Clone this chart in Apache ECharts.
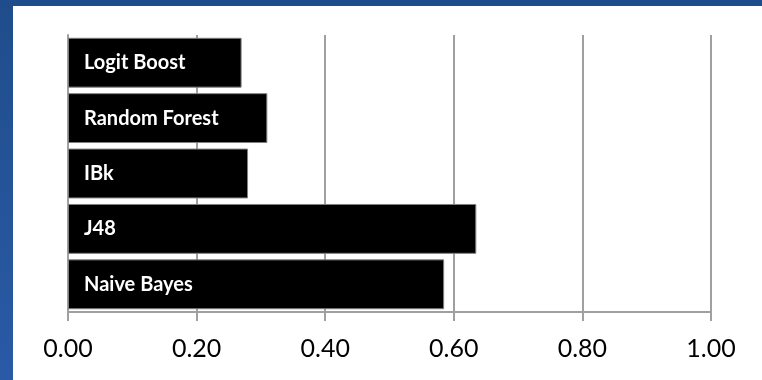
<!DOCTYPE html>
<html>
<head>
<meta charset="utf-8">
<script src="https://cdn.jsdelivr.net/npm/echarts@6/dist/echarts.min.js"></script>
<style>
  html, body { margin: 0; padding: 0; }
  body {
    width: 762px; height: 380px; overflow: hidden; position: relative;
    background: linear-gradient(180deg, #1f4d8b 0%, #2a5aa6 100%);
  }
  #chart {
    position: absolute; left: 13px; top: 6px;
    width: 749px; height: 374px; background: #ffffff;
  }
</style>
</head>
<body>
<div id="chart"></div>
<script>
// Classifiers, listed top to bottom
const classifiers = ['Logit Boost', 'Random Forest', 'IBk', 'J48', 'Naive Bayes'];
// Score for each classifier
const scores = [0.27, 0.31, 0.28, 0.635, 0.585];
// Value axis ticks
const tickValues = [0, 0.2, 0.4, 0.6, 0.8, 1.0];

const gridGray = '#a0a0a0';
const chart = echarts.init(document.getElementById('chart'));

chart.setOption({
  animation: false,
  grid: { left: 55, right: 51, top: 29, bottom: 68, containLabel: false },
  xAxis: {
    type: 'value',
    min: tickValues[0],
    max: tickValues[tickValues.length - 1],
    interval: tickValues[1] - tickValues[0],
    axisLine: { show: true, lineStyle: { color: gridGray, width: 2 } },
    axisTick: { show: true, length: 9, lineStyle: { color: gridGray, width: 2 } },
    splitLine: { show: true, lineStyle: { color: gridGray, width: 2 } },
    axisLabel: {
      color: '#000000',
      fontSize: 25,
      fontFamily: 'Lato, Noto Sans, sans-serif',
      margin: 24,
      formatter: v => v.toFixed(2)
    }
  },
  yAxis: {
    type: 'category',
    inverse: true,
    data: classifiers,
    axisLine: { show: true, lineStyle: { color: gridGray, width: 2 } },
    axisTick: { show: false },
    axisLabel: { show: false },
    splitLine: { show: false }
  },
  series: [{
    type: 'bar',
    data: scores,
    barCategoryGap: '10%',
    itemStyle: { color: '#000000', borderColor: '#808080', borderWidth: 1 },
    label: {
      show: true,
      position: 'insideLeft',
      distance: 16,
      formatter: '{b}',
      color: '#ffffff',
      fontWeight: 'bold',
      fontSize: 20,
      fontFamily: 'Lato, sans-serif'
    }
  }]
});
</script>
</body>
</html>
